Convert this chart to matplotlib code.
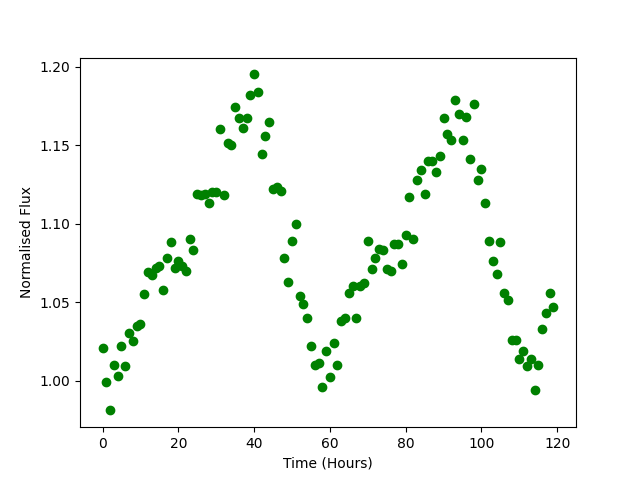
import numpy as np
import matplotlib
matplotlib.use("Agg")
import matplotlib.pyplot as plt

# ==========================================
# DATA
# ==========================================
hours = np.arange(120)

flux = [
    1.021, 0.999, 0.981, 1.010, 1.003, 1.022, 1.009, 1.030, 1.025, 1.035,
    1.036, 1.055, 1.069, 1.067, 1.072, 1.073, 1.058, 1.078, 1.088, 1.072,
    1.076, 1.073, 1.070, 1.090, 1.083, 1.119, 1.118, 1.119, 1.113, 1.120,
    1.120, 1.160, 1.118, 1.151, 1.150, 1.174, 1.167, 1.161, 1.167, 1.182,
    1.195, 1.184, 1.144, 1.156, 1.165, 1.122, 1.123, 1.121, 1.078, 1.063,
    1.089, 1.100, 1.054, 1.049, 1.040, 1.022, 1.010, 1.011, 0.996, 1.019,
    1.002, 1.024, 1.010, 1.038, 1.040, 1.056, 1.060, 1.040, 1.060, 1.062,
    1.089, 1.071, 1.078, 1.084, 1.083, 1.071, 1.070, 1.087, 1.087, 1.074,
    1.093, 1.117, 1.090, 1.128, 1.134, 1.119, 1.140, 1.140, 1.133, 1.143,
    1.167, 1.157, 1.153, 1.179, 1.170, 1.153, 1.168, 1.141, 1.176, 1.128,
    1.135, 1.113, 1.089, 1.076, 1.068, 1.088, 1.056, 1.051, 1.026, 1.026,
    1.014, 1.019, 1.009, 1.014, 0.994, 1.010, 1.033, 1.043, 1.056, 1.047,
]

# ==========================================
# PLOT
# ==========================================
plt.figure(figsize=(6.4, 4.8), dpi=100)
plt.plot(hours, flux, 'o', color='green')
plt.xlabel("Time (Hours)")
plt.ylabel("Normalised Flux")

plt.savefig("out.png", dpi=100)
